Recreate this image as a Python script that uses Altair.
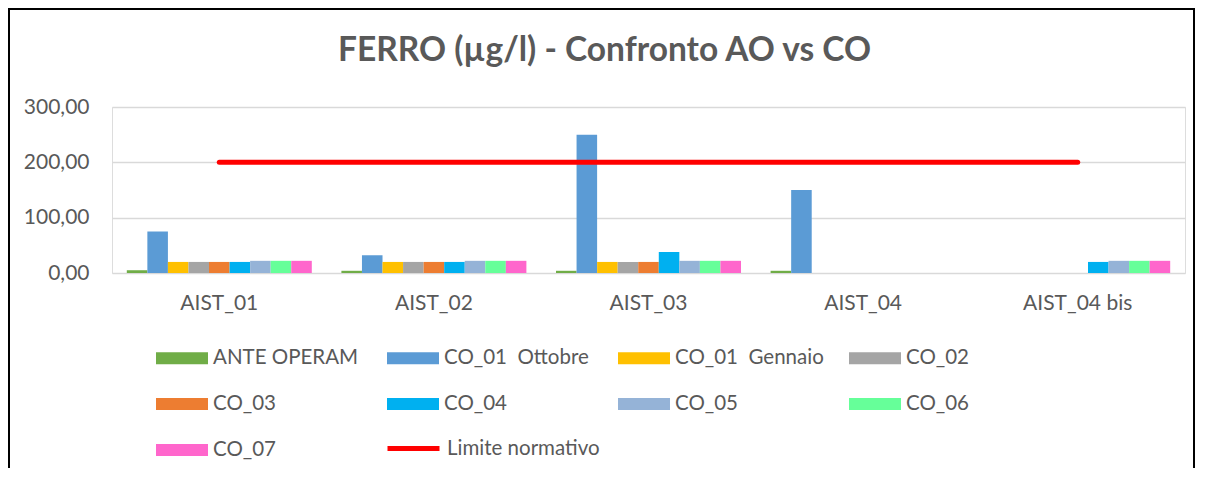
import altair as alt
import pandas as pd

categories = ["AIST_01", "AIST_02", "AIST_03", "AIST_04", "AIST_04 bis"]
series_names = ["ANTE OPERAM", "CO_01\u00a0 Ottobre", "CO_01\u00a0 Gennaio", "CO_02",
                "CO_03", "CO_04", "CO_05", "CO_06", "CO_07"]
series_colors = ["#70AD47", "#5B9BD5", "#FFC000", "#A5A5A5", "#ED7D31",
                 "#00B0F0", "#95B3D7", "#66FF99", "#FF66CC"]

ante_operam = [5, 4, 4, 4, None]
co01_ottobre = [75, 32, 250, 150, None]
co01_gennaio = [20, 20, 20, None, None]
co02 = [20, 20, 20, None, None]
co03 = [20, 20, 20, None, None]
co04 = [20, 20, 38, None, 20]
co05 = [22, 22, 22, None, 22]
co06 = [22, 22, 22, None, 22]
co07 = [22, 22, 22, None, 22]
limite_normativo = [200, 200, 200, 200, 200]
limite_label = "Limite normativo"

all_series = [ante_operam, co01_ottobre, co01_gennaio, co02, co03, co04, co05, co06, co07]
rows = []
for name, vals in zip(series_names, all_series):
    for cat, v in zip(categories, vals):
        if v is not None:
            rows.append({"stazione": cat, "serie": name, "valore": v})
bars_df = pd.DataFrame(rows)
lim_df = pd.DataFrame({"stazione": categories, "valore": limite_normativo,
                       "serie": [limite_label] * len(categories)})

FONT = "Lato"
GREY = "#595959"

x_scale = alt.Scale(domain=categories, paddingInner=0.138, paddingOuter=0.069)
y_scale = alt.Scale(domain=[0, 300], nice=False)

x_enc = alt.X("stazione:N", sort=categories, scale=x_scale,
              axis=alt.Axis(title=None, labelAngle=0, labelFont=FONT, labelFontSize=21,
                            labelColor=GREY, domain=False, ticks=False, labelPadding=19))
y_enc = alt.Y("valore:Q", scale=y_scale,
              axis=alt.Axis(title=None, values=[0, 100, 200, 300],
                            labelExpr="replace(format(datum.value, '.2f'), '.', ',')",
                            labelFont=FONT, labelFontSize=21, labelColor=GREY,
                            domain=False, ticks=False, tickSize=0, labelPadding=23,
                            grid=True, gridColor="#D9D9D9", gridWidth=1.5))

border = alt.Chart(pd.DataFrame({"k": [0]})).mark_rect(
    fill="transparent", stroke="black", strokeWidth=2
).encode(x=alt.value(-103), x2=alt.value(1082), y=alt.value(-98), y2=alt.value(520))

bars = alt.Chart(bars_df).mark_bar().encode(
    x=x_enc,
    xOffset=alt.XOffset("serie:N", sort=series_names,
                        scale=alt.Scale(domain=series_names, paddingInner=0, paddingOuter=0)),
    y=y_enc,
    color=alt.Color("serie:N", sort=series_names,
                    scale=alt.Scale(domain=series_names, range=series_colors),
                    legend=alt.Legend(title=None, orient="none", legendX=44, legendY=225,
                                      direction="horizontal",
                                      columns=4, gridAlign="all", columnPadding=25,
                                      rowPadding=9, padding=0,
                                      symbolType="M-1,-0.23H1V0.23H-1Z", symbolSize=2704,
                                      symbolStrokeWidth=0, symbolOpacity=1,
                                      labelFont=FONT, labelFontSize=20.5, labelColor=GREY,
                                      labelOffset=5, labelLimit=400)),
)

line = alt.Chart(lim_df).mark_line(strokeWidth=5, strokeCap="round").encode(
    x=alt.X("stazione:N", sort=categories, scale=x_scale),
    y=alt.Y("valore:Q", scale=y_scale),
    stroke=alt.Stroke("serie:N",
                      scale=alt.Scale(domain=[limite_label], range=["#FF0000"]),
                      legend=alt.Legend(title=None, orient="none", legendX=273, legendY=313,
                                        padding=0, symbolType="stroke", symbolSize=2704,
                                        symbolStrokeWidth=5, labelFont=FONT,
                                        labelFontSize=20.5, labelColor=GREY,
                                        labelOffset=5, labelLimit=400)),
)

chart = alt.layer(border, bars, line).properties(
    width=1073,
    height=166,
    padding={"left": 104, "top": 99, "right": 11, "bottom": 195},
    autosize=alt.AutoSizeParams(type="none"),
    title=alt.TitleParams(text="FERRO (µg/l) - Confronto AO vs CO", font=FONT, fontSize=33.5,
                          fontWeight="bold", color=GREY, anchor="middle", dx=-44,
                          offset=0, baseline="alphabetic", dy=86),
).configure_view(stroke=None).configure(background="white")

chart.save("out.html", embed_options={"renderer": "svg", "actions": False})
